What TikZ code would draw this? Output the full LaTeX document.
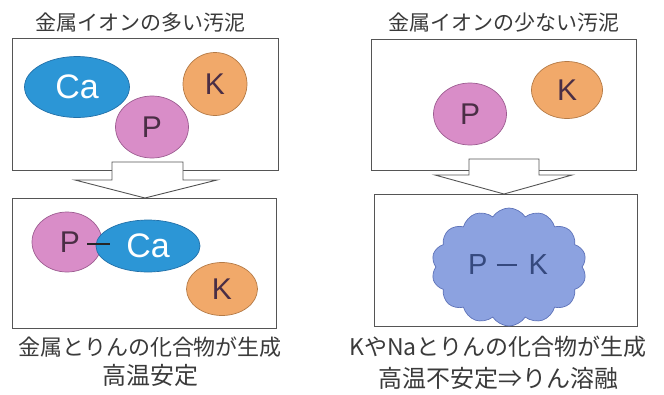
\documentclass[tikz,border=0pt]{standalone}
\usepackage{fontspec}
\setmainfont{Liberation Sans}
\newfontfamily\jp{Noto Sans CJK JP}
\usetikzlibrary{shapes.geometric,shapes.symbols}
\definecolor{cafill}{HTML}{2C96D6}
\definecolor{cadraw}{HTML}{2270A8}
\definecolor{pfill}{HTML}{D98DC8}
\definecolor{pdraw}{HTML}{9C5C90}
\definecolor{kfill}{HTML}{F1A96A}
\definecolor{kdraw}{HTML}{B47A46}
\definecolor{cloudfill}{HTML}{8CA2E0}
\definecolor{clouddraw}{HTML}{5D72B8}
\definecolor{cloudtext}{HTML}{35497E}
\definecolor{atomtext}{HTML}{4A2E45}
\definecolor{jptext}{HTML}{3A3A3A}
\definecolor{boxline}{HTML}{555555}
\begin{document}
\begin{tikzpicture}[x=1pt,y=-1pt,
  panel/.style={draw=boxline, line width=0.9pt, rectangle, inner sep=0pt},
  atom/.style={ellipse, line width=0.7pt, inner sep=0pt, font=\fontsize{30}{30}\selectfont, text=atomtext},
  caatom/.style={atom, fill=cafill, draw=cadraw, text=white, font=\fontsize{34}{34}\selectfont},
  patom/.style={atom, fill=pfill, draw=pdraw},
  katom/.style={atom, fill=kfill, draw=kdraw},
  title/.style={font=\jp\fontsize{21}{21}\selectfont, text=jptext, inner sep=0pt},
  caption/.style={font=\jp\fontsize{22}{22}\selectfont, text=jptext, inner sep=0pt},
  caption2/.style={font=\jp\fontsize{24}{24}\selectfont, text=jptext, inner sep=0pt},
  blockarrow/.style={draw=boxline, line width=0.9pt, fill=white, line join=miter},
  bond/.style={line width=2.4pt, draw=black!85}
]
\useasboundingbox (0,0) rectangle (664,394);

% ---------- left panel ----------
\node[title] (t1) at (140,23) {金属イオンの多い汚泥};
\node[panel, minimum width=266, minimum height=132] (b1) at (145,104) {};
\node[caatom, minimum width=105, minimum height=61] (ca1) at (77,87) {Ca};
\node[patom, minimum width=73, minimum height=62] (p1) at (152,127) {P};
\node[katom, minimum width=64, minimum height=63] (k1) at (215,84) {K};

\draw[blockarrow] (112,162) -- (112,180) -- (75,180) -- (145,198) -- (217,180) -- (183,180) -- (183,162) -- cycle;

\node[panel, minimum width=264, minimum height=130] (b2) at (144,263) {};
\node[patom, minimum width=70, minimum height=60] (p2) at (67,242) {\hspace{6pt}P};
\node[caatom, minimum width=104, minimum height=52] (ca2) at (148,246) {\raisebox{-3pt}{Ca}};
\node[katom, minimum width=71, minimum height=53] (k2) at (222,289) {K};
\draw[bond] ([xshift=20pt,yshift=-2pt]p2.center) -- ([xshift=-38pt,yshift=2pt]ca2.center);

\node[caption] (c1) at (150,347) {金属とりんの化合物が生成};
\node[caption2] (c2) at (150,375) {高温安定};

% ---------- right panel ----------
\node[title] (t2) at (504,23) {金属イオンの少ない汚泥};
\node[panel, minimum width=265, minimum height=131] (b3) at (503.5,104.5) {};
\node[patom, minimum width=73, minimum height=62] (p3) at (470,114) {P};
\node[katom, minimum width=71, minimum height=57] (k3) at (567,90) {K};

\draw[blockarrow] (469,159) -- (469,175) -- (435,175) -- (504,194) -- (572,175) -- (539,175) -- (539,159) -- cycle;

\node[panel, minimum width=263, minimum height=132] (b4) at (505.5,260) {};
\node[cloud, cloud puffs=14, cloud puff arc=115, aspect=1.3, minimum width=155, minimum height=118,
      fill=cloudfill, draw=clouddraw, line width=0.7pt, inner sep=0pt] (pk) at (509,267) {};
\node[font=\fontsize{29}{29}\selectfont, text=cloudtext, inner sep=0pt] (pktext) at (508,265)
  {P\hspace{9pt}\textcolor{cloudtext}{\rule[9pt]{20pt}{1.6pt}}\hspace{12pt}K};

\node[font=\jp\fontsize{23}{23}\selectfont, text=jptext, inner sep=0pt] (c3) at (498,347) {KやNaとりんの化合物が生成};
\node[caption2] (c4) at (498,378) {高温不安定⇒りん溶融};
\end{tikzpicture}
\end{document}
